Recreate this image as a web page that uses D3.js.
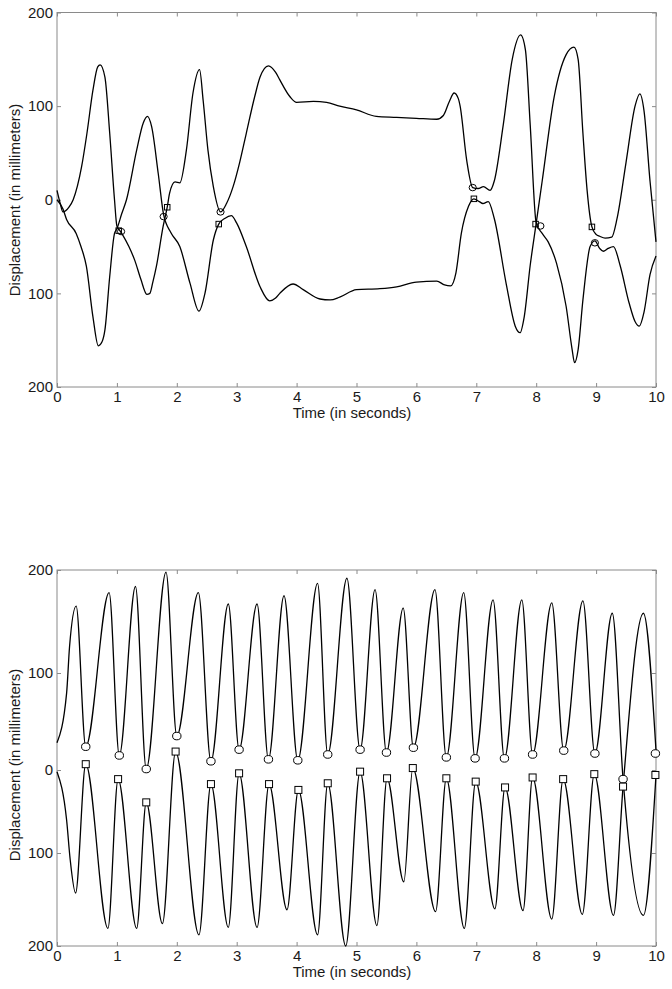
<!DOCTYPE html>
<html><head><meta charset="utf-8">
<script src="https://cdn.jsdelivr.net/npm/d3@7"></script>
<style>
html,body{margin:0;padding:0;background:#fff;}
svg text{font-family:"Liberation Sans",Arial,sans-serif;fill:#1a1a1a;}
</style></head>
<body>
<svg id="chart" width="672" height="989"></svg>
<script>
// ---------- data ----------
const xTicks = [0,1,2,3,4,5,6,7,8,9,10];
const yTicks = [200,100,0,-100,-200];
const yTickLabels = ["200","100","0","100","200"];
const xTitle = "Time (in seconds)";
const yTitle = "Displacement (in millimeters)";

// top panel, series A and B  [time, displacement]
const topA = [[0,10],[0.05,-3],[0.1,-13],[0.2,-8],[0.27,0],[0.41,35],[0.5,71],[0.6,117],[0.68,142],[0.72,144],[0.8,131],[0.88,71],[0.96,0],[1.0,-28],[1.05,-33],[1.1,-38],[1.2,-50],[1.3,-65],[1.4,-85],[1.5,-101],[1.55,-100],[1.6,-88],[1.66,-71],[1.77,-29],[1.84,-8],[1.88,7],[1.97,19],[2.05,18],[2.16,53],[2.27,114],[2.38,139],[2.44,106],[2.52,53],[2.61,14],[2.73,-13],[2.83,-4],[2.94,14],[3.05,40],[3.16,71],[3.3,110],[3.39,131],[3.53,143],[3.65,136],[3.72,128],[3.89,110],[4.0,104],[4.28,105],[4.5,104],[4.72,100],[5.0,96],[5.33,89],[5.67,88],[6.0,87],[6.34,86],[6.45,90],[6.55,105],[6.63,114],[6.7,108],[6.73,100],[6.84,42],[6.94,13],[7.03,12],[7.12,14],[7.23,10],[7.3,20],[7.45,80],[7.6,150],[7.74,176],[7.82,160],[7.9,80],[8.0,-25],[8.1,-36],[8.2,-45],[8.34,-68],[8.5,-114],[8.6,-160],[8.64,-174],[8.7,-160],[8.78,-107],[8.9,-50],[8.98,-44],[9.06,-52],[9.12,-55],[9.2,-52],[9.29,-50],[9.4,-70],[9.55,-110],[9.65,-130],[9.72,-135],[9.8,-120],[9.9,-80],[10,-60]];
const topB = [[0,0],[0.1,-10],[0.16,-21],[0.32,-36],[0.4,-50],[0.49,-71],[0.6,-125],[0.69,-156],[0.75,-152],[0.8,-139],[0.88,-82],[0.96,-36],[1.0,-31],[1.08,-15],[1.16,0],[1.33,53],[1.44,82],[1.51,89],[1.58,78],[1.69,28],[1.78,-16],[1.9,-35],[2.05,-50],[2.22,-89],[2.37,-119],[2.47,-100],[2.61,-43],[2.7,-26],[2.8,-20],[2.91,-17],[3.0,-25],[3.16,-50],[3.39,-93],[3.55,-108],[3.65,-105],[3.72,-100],[3.94,-90],[4.11,-96],[4.39,-106],[4.56,-107],[4.72,-104],[5.0,-96],[5.39,-95],[5.67,-93],[6.0,-88],[6.34,-87],[6.47,-91],[6.57,-92],[6.66,-78],[6.75,-36],[6.87,-7],[6.96,1],[7.05,-2],[7.11,-4],[7.2,-2],[7.3,-20],[7.5,-90],[7.65,-135],[7.73,-142],[7.8,-125],[7.9,-70],[8.0,-25],[8.1,20],[8.3,110],[8.5,155],[8.63,163],[8.7,150],[8.78,71],[8.85,10],[8.93,-29],[9.0,-37],[9.06,-39],[9.15,-41],[9.26,-40],[9.35,-20],[9.5,40],[9.65,100],[9.73,113],[9.8,95],[9.9,20],[10,-45]];
const topCircles = [[1.07,-34],[1.78,-18],[2.73,-13],[6.94,13],[8.07,-28],[8.98,-46]];
const topSquares = [[1.03,-33],[1.84,-8],[2.7,-26],[6.96,1],[7.99,-26],[8.93,-29]];

// bottom panel, series C and D
const botC = [[0,28],[0.16,79],[0.21,126],[0.32,165],[0.48,24],[0.87,178],[1.04,15],[1.31,184],[1.49,1],[1.82,198],[2.0,35],[2.36,178],[2.57,9],[2.86,167],[3.04,21],[3.34,167],[3.53,11],[3.79,175],[4.02,10],[4.35,187],[4.52,16],[4.84,192],[5.06,21],[5.31,181],[5.5,18],[5.78,163],[5.95,23],[6.31,181],[6.5,13],[6.79,178],[6.98,12],[7.28,171],[7.47,12],[7.76,171],[7.94,16],[8.26,168],[8.46,20],[8.78,170],[8.98,17],[9.27,158],[9.45,-11],[9.79,-167],[10,-6]];
const botD = [[0,-2],[0.16,-60],[0.22,-107],[0.31,-143],[0.48,6],[0.85,-181],[1.02,-11],[1.33,-181],[1.49,-39],[1.76,-176],[1.98,19],[2.37,-188],[2.57,-17],[2.86,-180],[3.04,-4],[3.34,-180],[3.54,-17],[3.84,-161],[4.03,-24],[4.35,-188],[4.52,-16],[4.82,-200],[5.06,-2],[5.34,-178],[5.51,-10],[5.79,-131],[5.94,2],[6.32,-163],[6.5,-10],[6.8,-181],[6.99,-14],[7.31,-160],[7.48,-21],[7.78,-162],[7.94,-9],[8.26,-171],[8.45,-11],[8.77,-166],[8.97,-5],[9.29,-167],[9.45,-20],[9.79,158],[10,20]];
const botCircles = [[0.48,24],[1.04,15],[1.49,1],[2.0,35],[2.57,9],[3.04,21],[3.53,11],[4.02,10],[4.52,16],[5.06,21],[5.5,18],[5.95,23],[6.5,13],[6.98,12],[7.47,12],[7.94,16],[8.46,20],[8.98,17],[9.45,-11],[9.99,17]];
const botSquares = [[0.48,6],[1.02,-11],[1.49,-39],[1.98,19],[2.57,-17],[3.04,-4],[3.54,-17],[4.03,-24],[4.52,-16],[5.06,-2],[5.51,-10],[5.94,2],[6.5,-10],[6.99,-14],[7.48,-21],[7.94,-9],[8.45,-11],[8.97,-5],[9.45,-20],[9.99,-6]];

// ---------- drawing ----------
const svg = d3.select("#chart");
const x = d3.scaleLinear().domain([0,10]).range([57,656]);

const panels = [
  {y: d3.scaleLinear().domain([200,-200]).range([12.5,387]),
   series:[topA, topB], circles: topCircles, squares: topSquares,
   cr: 3.6, sq: 5.5, fill: "none", yLabelCenter: 200},
  {y: d3.scaleLinear().domain(yTicks).range([570,673,770,853,946]),
   series:[botC, botD], circles: botCircles, squares: botSquares,
   cr: 4.2, sq: 7, fill: "#fff", yLabelCenter: 765}
];

const FS = 15;
panels.forEach(p => {
  const y = p.y;
  const [y0, y1] = [y(200), y(-200)];
  const [x0, x1] = [x(0), x(10)];
  const g = svg.append("g");

  // box
  g.append("rect").attr("x", x0).attr("y", y0)
    .attr("width", x1 - x0).attr("height", y1 - y0)
    .attr("fill", "none").attr("stroke", "#8a8a8a").attr("stroke-width", 1);

  const fmt = d => yTickLabels[yTicks.indexOf(d)];
  const ax = [
    g.append("g").attr("transform", `translate(0,${y1})`)
      .call(d3.axisBottom(x).tickValues(xTicks).tickSize(-4).tickPadding(4)),
    g.append("g").attr("transform", `translate(0,${y0})`)
      .call(d3.axisTop(x).tickValues(xTicks).tickSize(-4).tickFormat("")),
    g.append("g").attr("transform", `translate(${x0},0)`)
      .call(d3.axisLeft(y).tickValues(yTicks).tickSize(-4).tickPadding(4).tickFormat(fmt)),
    g.append("g").attr("transform", `translate(${x1},0)`)
      .call(d3.axisRight(y).tickValues(yTicks).tickSize(-4).tickFormat(""))
  ];
  ax.forEach(a => {
    a.select(".domain").remove();
    a.selectAll("line").attr("stroke", "#8a8a8a");
    a.selectAll("text").attr("font-size", FS).attr("font-family", null).attr("fill", "#1a1a1a");
  });

  // titles
  g.append("text").attr("x", 352).attr("y", y1 + 31)
    .attr("text-anchor", "middle").attr("font-size", FS).text(xTitle);
  g.append("text")
    .attr("transform", `translate(20,${p.yLabelCenter}) rotate(-90)`)
    .attr("text-anchor", "middle").attr("font-size", FS).text(yTitle);

  // lines
  const line = d3.line().x(d => x(d[0])).y(d => y(d[1])).curve(d3.curveMonotoneX);
  p.series.forEach(s => {
    g.append("path").attr("d", line(s)).attr("fill", "none")
      .attr("stroke", "#000").attr("stroke-width", 1.3);
  });

  // markers
  g.selectAll(".c").data(p.circles).join("ellipse")
    .attr("cx", d => x(d[0])).attr("cy", d => y(d[1]))
    .attr("rx", p.cr).attr("ry", p.cr * 0.9)
    .attr("fill", p.fill).attr("stroke", "#000").attr("stroke-width", 1);
  g.selectAll(".s").data(p.squares).join("rect")
    .attr("x", d => x(d[0]) - p.sq / 2).attr("y", d => y(d[1]) - p.sq / 2)
    .attr("width", p.sq).attr("height", p.sq)
    .attr("fill", p.fill).attr("stroke", "#000").attr("stroke-width", 1);
});
</script>
</body></html>
